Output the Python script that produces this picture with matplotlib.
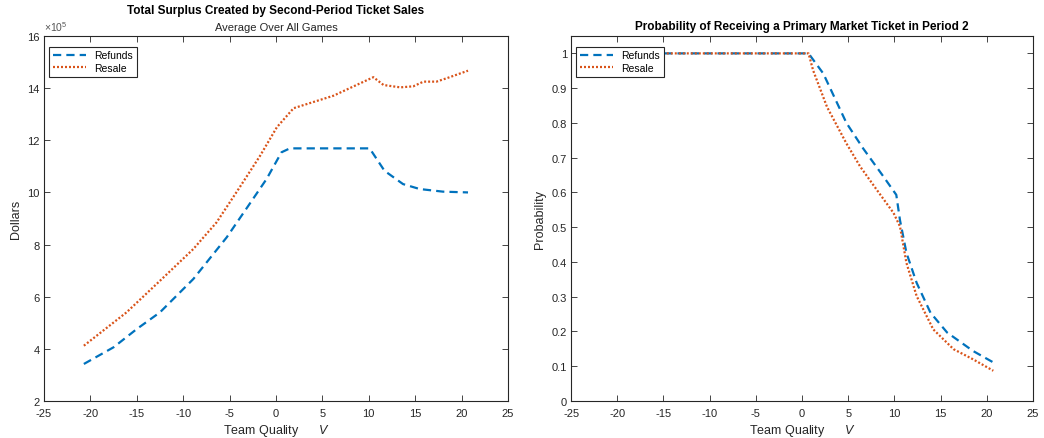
import numpy as np
import matplotlib
matplotlib.use("Agg")
import matplotlib.pyplot as plt
from matplotlib.ticker import FuncFormatter

plt.rcParams['font.family'] = ['Liberation Sans', 'DejaVu Sans']
plt.rcParams['mathtext.fontset'] = 'custom'
plt.rcParams['mathtext.it'] = 'Liberation Sans:italic'
plt.rcParams['mathtext.rm'] = 'Liberation Sans'
plt.rcParams['axes.unicode_minus'] = False

BLUE = '#0072BD'
ORANGE = '#D95319'
AXC = '#262626'

# total surplus (units of 1e5 dollars) vs team quality
v_ref_s = [-20.7, -17.5, -15.0, -12.5, -8.9, -5.3, -3.2, -1.0, 0.6, 1.5, 5.0, 10.1, 11.7, 13.7, 15.5, 18.0, 20.7]
s_ref = [3.42, 4.06, 4.76, 5.40, 6.68, 8.28, 9.37, 10.52, 11.54, 11.69, 11.69, 11.69, 10.83, 10.32, 10.13, 10.03, 10.0]
v_res_s = [-20.7, -16.1, -12.5, -8.9, -6.4, -3.9, -1.7, 0.1, 1.9, 6.2, 10.5, 11.6, 13.4, 14.8, 15.9, 17.3, 18.4, 20.7]
s_res = [4.12, 5.40, 6.61, 7.83, 8.85, 10.20, 11.41, 12.50, 13.23, 13.71, 14.42, 14.12, 14.03, 14.07, 14.25, 14.25, 14.38, 14.67]

# probability of receiving a primary market ticket in period 2
v_ref_p = [-20.7, -10.0, 0.7, 2.3, 4.8, 6.6, 8.8, 10.2, 10.6, 11.3, 12.4, 13.9, 15.7, 18.5, 20.7]
p_ref = [1.0, 1.0, 1.0, 0.942, 0.80, 0.727, 0.646, 0.593, 0.52, 0.426, 0.34, 0.254, 0.197, 0.144, 0.111]
v_res_p = [-20.7, -10.0, 0.7, 1.2, 2.7, 4.8, 6.3, 8.1, 9.9, 10.6, 11.3, 12.4, 14.2, 16.4, 18.5, 20.7]
p_res = [1.0, 1.0, 1.0, 0.951, 0.846, 0.741, 0.674, 0.607, 0.541, 0.502, 0.397, 0.302, 0.206, 0.149, 0.12, 0.087]


def style_axes(ax):
    for sp in ax.spines.values():
        sp.set_color(AXC)
        sp.set_linewidth(0.8)
    ax.tick_params(direction='in', top=True, right=True, length=4,
                   width=0.6, colors=AXC, labelsize=8, pad=3)
    ax.tick_params(axis='x', pad=5)
    ax.set_xlim(-25, 25)
    ax.set_xticks(np.arange(-25, 26, 5))
    ax.set_xlabel('Team Quality      $\\mathit{V}$', fontsize=9, color=AXC, labelpad=3)


def add_lines(ax, x1, y1, x2, y2):
    ax.plot(x1, y1, color=BLUE, lw=1.6, dashes=(3.7, 2.3), label='Refunds')
    ax.plot(x2, y2, color=ORANGE, lw=1.6, dashes=(0.9, 0.9), label='Resale')
    leg = ax.legend(loc='upper left', fontsize=7.5, fancybox=False,
                    edgecolor=AXC, framealpha=1, borderpad=0.35,
                    handlelength=3.2, labelspacing=0.25,
                    bbox_to_anchor=(0.0, 0.985))
    leg.get_frame().set_linewidth(0.8)


fig = plt.figure(figsize=(10.44, 4.39), dpi=100)
ax1 = fig.add_axes([0.0421, 0.0843, 0.4444, 0.8314])
ax2 = fig.add_axes([0.547, 0.0843, 0.4425, 0.8314])

# left panel, plotted in dollars with the 1e5 factor shown as a label
add_lines(ax1, v_ref_s, np.array(s_ref) * 1e5, v_res_s, np.array(s_res) * 1e5)
style_axes(ax1)
ax1.set_ylim(2e5, 16e5)
ax1.set_yticks(np.arange(2e5, 16.1e5, 2e5))
ax1.yaxis.set_major_formatter(FuncFormatter(lambda y, pos: '%g' % (y / 1e5)))
ax1.text(0.0, 1.008, '$\\times$10$^{5}$', transform=ax1.transAxes,
         ha='left', va='bottom', fontsize=7.5, color='#555555')
ax1.set_ylabel('Dollars', fontsize=9, color=AXC, labelpad=4)
ax1.set_title('Average Over All Games', fontsize=8, color=AXC, pad=4)
ax1.text(0.5, 1.055, 'Total Surplus Created by Second-Period Ticket Sales',
         transform=ax1.transAxes, ha='center', va='bottom',
         fontsize=8.5, fontweight='bold')

# right panel
add_lines(ax2, v_ref_p, p_ref, v_res_p, p_res)
style_axes(ax2)
ax2.set_ylim(0, 1.05)
ax2.set_yticks(np.arange(0, 1.01, 0.1))
ax2.set_yticklabels(['0'] + ['%.1f' % t for t in np.arange(0.1, 0.95, 0.1)] + ['1'])
ax2.set_ylabel('Probability', fontsize=9, color=AXC, labelpad=4)
ax2.set_title('Probability of Receiving a Primary Market Ticket in Period 2',
              fontsize=8.5, fontweight='bold', pad=5)

fig.savefig('out.png', dpi=100)
